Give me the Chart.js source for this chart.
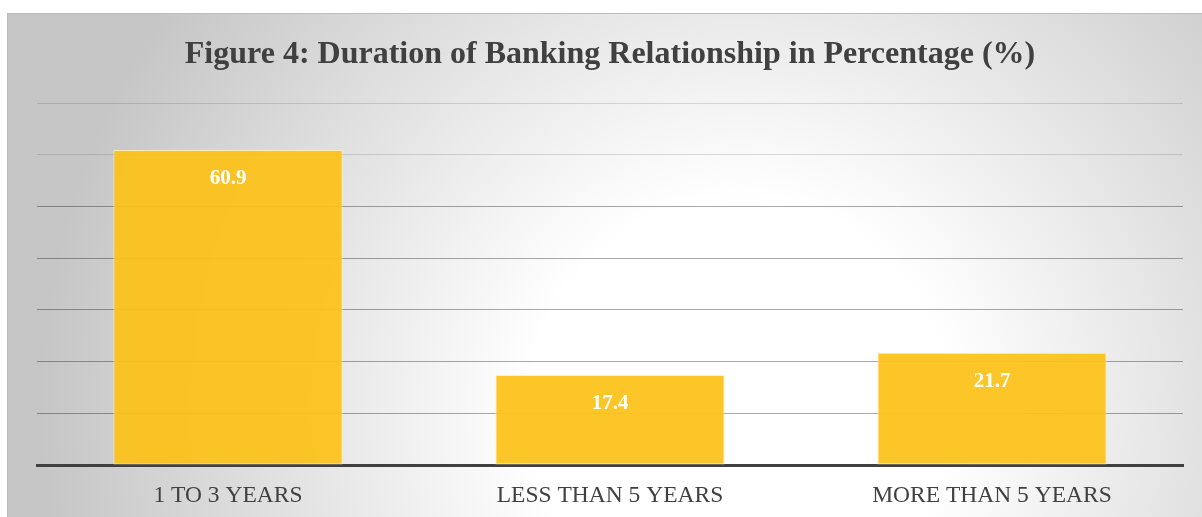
<!DOCTYPE html>
<html>
<head>
<meta charset="utf-8">
<script src="https://cdn.jsdelivr.net/npm/chart.js@4.4.1/dist/chart.umd.min.js"></script>
<style>
    html, body { margin: 0; padding: 0; background: #fff; }
    #wrap { width: 1202px; height: 517px; }
</style>
</head>
<body>
<div id="wrap"><canvas id="durationChart" width="1202" height="517"></canvas></div>
<script>
// Data z grafu
const categories = ['1 TO 3 YEARS', 'LESS THAN 5 YEARS', 'MORE THAN 5 YEARS'];
const percentValues = [60.9, 17.4, 21.7];
const yTicks = [0, 10, 20, 30, 40, 50, 60, 70];

// Pozadi s prechodem a ramecek
const backgroundPlugin = {
    id: 'panelBackground',
    beforeDraw(chart) {
        const ctx = chart.ctx;
        const w = chart.width, h = chart.height;
        ctx.save();
        ctx.fillStyle = '#ffffff';
        ctx.fillRect(0, 0, w, h);
        const grad = ctx.createRadialGradient(740, 410, 0, 740, 410, 700);
        grad.addColorStop(0, '#ffffff');
        grad.addColorStop(0.3, '#ffffff');
        grad.addColorStop(1, '#c6c6c6');
        ctx.fillStyle = grad;
        ctx.fillRect(7, 13, w - 7, h - 13);
        ctx.strokeStyle = '#bdbdbd';
        ctx.lineWidth = 1;
        ctx.beginPath();
        ctx.moveTo(7.5, h);
        ctx.lineTo(7.5, 13.5);
        ctx.lineTo(w, 13.5);
        ctx.stroke();
        ctx.restore();
    }
};

// Popisky hodnot uvnitr sloupcu
const valueLabelPlugin = {
    id: 'valueLabels',
    afterDatasetsDraw(chart) {
        const ctx = chart.ctx;
        const meta = chart.getDatasetMeta(0);
        ctx.save();
        ctx.font = 'bold 21px "Liberation Serif", "Times New Roman", serif';
        ctx.fillStyle = '#ffffff';
        ctx.textAlign = 'center';
        ctx.textBaseline = 'middle';
        meta.data.forEach((bar, i) => {
            ctx.fillText(percentValues[i].toFixed(1), bar.x, bar.y + 29);
        });
        ctx.restore();
    }
};

const ctx = document.getElementById('durationChart').getContext('2d');
new Chart(ctx, {
    type: 'bar',
    data: {
        labels: categories,
        datasets: [{
            data: percentValues,
            backgroundColor: 'rgba(252, 194, 24, 0.93)',
            borderColor: 'rgba(255, 238, 190, 0.9)',
            borderWidth: 1,
            borderSkipped: false,
            categoryPercentage: 1,
            barPercentage: 0.6
        }]
    },
    options: {
        responsive: false,
        animation: false,
        layout: {
            padding: { left: 37, right: 19, top: 0, bottom: 0 }
        },
        scales: {
            x: {
                afterFit: s => { s.height = 52; },
                grid: { display: true, color: 'rgba(0,0,0,0)', drawOnChartArea: false, drawTicks: false },
                border: { display: true, color: '#404040', width: 3 },
                ticks: {
                    color: '#404040',
                    padding: 17,
                    font: { family: '"Liberation Serif", "Times New Roman", serif', size: 23.5 }
                }
            },
            y: {
                min: 0,
                max: 70,
                z: 1,
                afterBuildTicks: axis => {
                    axis.ticks = yTicks.map(v => ({ value: v }));
                },
                ticks: { display: false },
                border: { display: false },
                grid: {
                    drawTicks: false,
                    lineWidth: 1,
                    color: c => (c.tick && c.tick.value >= 60) ? 'rgba(0,0,0,0.13)' : 'rgba(0,0,0,0.34)'
                }
            }
        },
        plugins: {
            legend: { display: false },
            tooltip: { enabled: false },
            title: {
                display: true,
                text: 'Figure 4: Duration of Banking Relationship in Percentage (%)',
                color: '#404040',
                font: { family: '"Liberation Serif", "Times New Roman", serif', size: 32, weight: 'bold' },
                padding: { top: 36, bottom: 28.6 }
            }
        }
    },
    plugins: [backgroundPlugin, valueLabelPlugin]
});
</script>
</body>
</html>
